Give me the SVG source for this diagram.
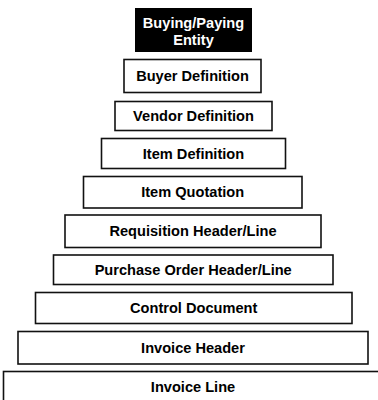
<svg xmlns="http://www.w3.org/2000/svg" width="378" height="400" viewBox="0 0 378 400">
<style>
.b{fill:#fff;stroke:#111;stroke-width:1.6}
.t{font-family:"Liberation Sans",Arial,sans-serif;font-weight:bold;font-size:14.6px;text-anchor:middle;fill:#000}
.w{fill:#fff}
</style>
<rect width="378" height="400" fill="#fff"/>
<g id="entity"><rect x="135" y="8" width="117" height="44" fill="#000"/><text class="t w" x="193.5" y="28.3">Buying/Paying</text><text class="t w" x="193.5" y="44.8">Entity</text></g>
<g id="buyer"><rect class="b" x="124" y="59.5" width="137" height="33"/><text class="t" x="192.5" y="81.2">Buyer Definition</text></g>
<g id="vendor"><rect class="b" x="115" y="101.5" width="157" height="29"/><text class="t" x="193.5" y="121.2">Vendor Definition</text></g>
<g id="itemdef"><rect class="b" x="101.5" y="138.5" width="184" height="30"/><text class="t" x="193.5" y="158.7">Item Definition</text></g>
<g id="itemquot"><rect class="b" x="83.5" y="176.5" width="218.5" height="31.5"/><text class="t" x="192.7" y="197.4">Item Quotation</text></g>
<g id="req"><rect class="b" x="65" y="215" width="256" height="32.5"/><text class="t" x="193" y="236.4">Requisition Header/Line</text></g>
<g id="po"><rect class="b" x="53.5" y="255" width="279.5" height="29.5"/><text class="t" x="193.2" y="274.9">Purchase Order Header/Line</text></g>
<g id="control"><rect class="b" x="35.5" y="292.5" width="316.5" height="31"/><text class="t" x="193.7" y="313.2">Control Document</text></g>
<g id="invheader"><rect class="b" x="18" y="331.5" width="350" height="32.5"/><text class="t" x="193" y="352.9">Invoice Header</text></g>
<g id="invline"><rect class="b" x="3.5" y="371.5" width="400" height="40"/><text class="t" x="193" y="391.9">Invoice Line</text></g>
<g id="connectors"/>
</svg>
